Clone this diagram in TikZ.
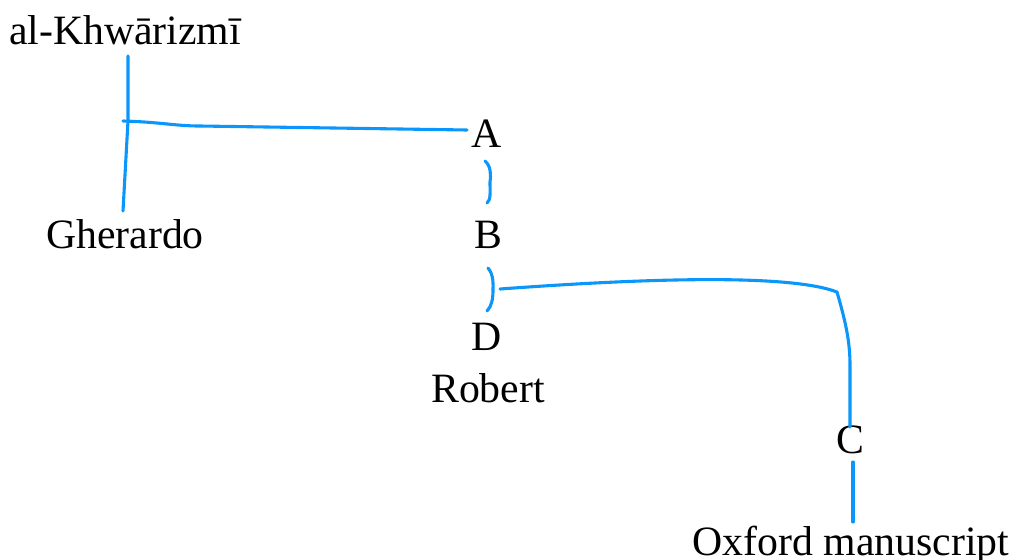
\documentclass[tikz,border=0pt]{standalone}
\usepackage{fontspec}
\setmainfont{Liberation Serif}
\definecolor{stem}{RGB}{10,150,250}
\begin{document}
\begin{tikzpicture}[x=0.025cm,y=-0.025cm,
  lab/.style={anchor=base, inner sep=0pt, font=\fontsize{29.7}{34}\selectfont},
  link/.style={draw=stem, line width=2.2pt, line cap=round, line join=round}]
\useasboundingbox (0,0) rectangle (1015,560);
% labels
\node[lab] (alk) at (125,44) {al-Khwārizmī};
\node[lab] (gher) at (125,248) {Gherardo};
\node[lab] (A) at (487,147) {A};
\node[lab] (B) at (488,248) {B};
\node[lab] (D) at (487,350) {D};
\node[lab] (rob) at (488,402) {Robert};
\node[lab] (C) at (850,453) {C};
\node[lab] (ox) at (851,555) {Oxford manuscript};
% connector ends
\coordinate (alkS) at (128,56);
\coordinate (j1) at (123,121);
\coordinate (gherN) at (123,211);
\coordinate (AW) at (467,130);
\coordinate (AS) at (485,161);
\coordinate (BN) at (487,203);
\coordinate (BS) at (488,268);
\coordinate (DN) at (487,311);
\coordinate (j2) at (500,289);
\coordinate (CN) at (850,427);
\coordinate (CS) at (853,462);
\coordinate (oxN) at (853,522);
% connectors
\draw[link] (alkS) -- (128,121) -- (gherN);
\draw[link] (j1) .. controls (160,122) and (175,126) .. (200,126) -- (AW);
\draw[link] (AS) .. controls (491,166) and (491,175) .. (490,182) .. controls (490,192) and (491,200) .. (BN);
\draw[link] (BS) .. controls (494,275) and (493,285) .. (493,290) .. controls (493,298) and (492,306) .. (DN);
\draw[link] (j2) .. controls (650,278) and (790,274) .. (837,292) .. controls (845,320) and (850,340) .. (850,365) -- (CN);
\draw[link] (CS) -- (oxN);
\end{tikzpicture}
\end{document}
